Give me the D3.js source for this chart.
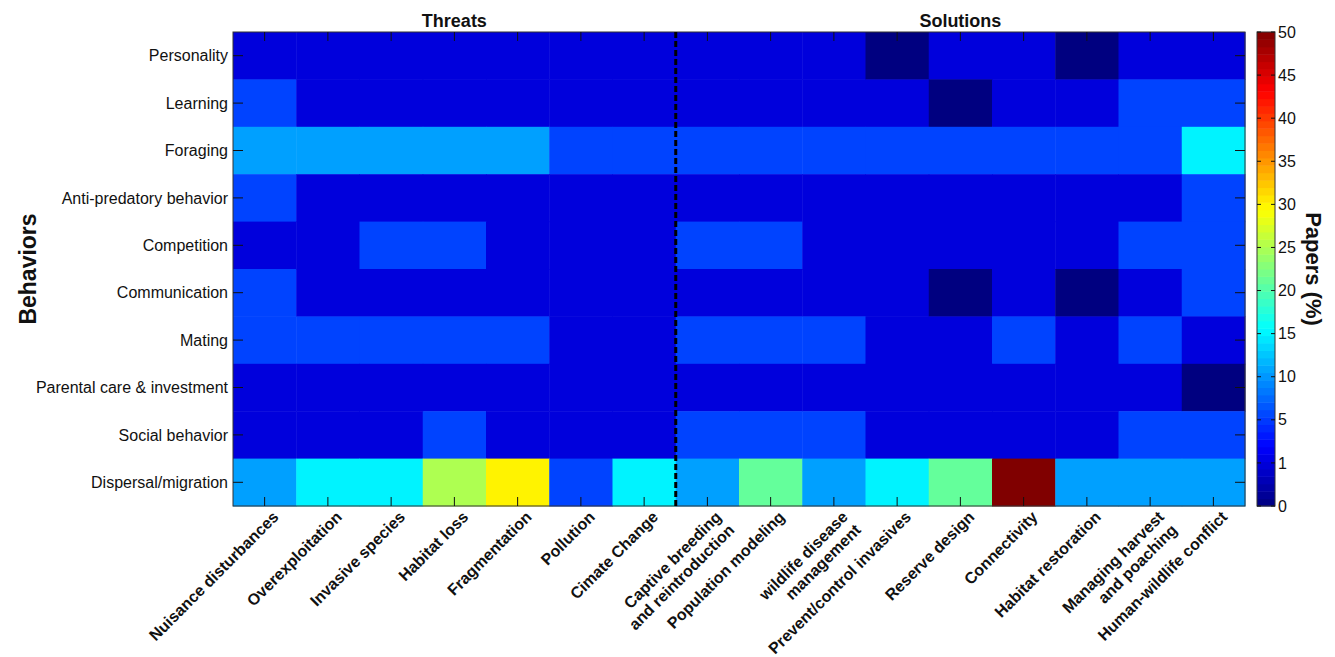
<!DOCTYPE html>
<html>
<head>
<meta charset="utf-8">
<script src="https://cdnjs.cloudflare.com/ajax/libs/d3/7.8.5/d3.min.js"></script>
<style>
  body { margin: 0; background: #fff; }
  svg text { font-family: "Liberation Sans", Arial, sans-serif; fill: #111; }
</style>
</head>
<body>
<script>
const threats = ["Nuisance disturbances", "Overexploitation", "Invasive species", "Habitat loss",
    "Fragmentation", "Pollution", "Cimate Change"];
const solutions = ["Captive breeding|and reintroduction", "Population modeling", "wildlife disease|management",
    "Prevent/control invasives", "Reserve design", "Connectivity", "Habitat restoration",
    "Managing harvest|and poaching", "Human-wildlife conflict"];
const behaviors = ["Personality", "Learning", "Foraging", "Anti-predatory behavior", "Competition",
    "Communication", "Mating", "Parental care & investment", "Social behavior", "Dispersal/migration"];

// papers (%) per behavior, threats then solutions
const personality   = [1, 1, 1, 1, 1, 1, 1,      1, 1, 1, 0, 1, 1, 0, 1, 1];
const learning      = [5.5, 1, 1, 1, 1, 1, 1,    1, 1, 1, 1, 0, 1, 1, 5.5, 5.5];
const foraging      = [10.5, 10.5, 10.5, 10.5, 10.5, 5.5, 5.5,  5.5, 5.5, 5.5, 5.5, 5.5, 5.5, 5.5, 5.5, 15];
const antiPredatory = [5.5, 1, 1, 1, 1, 1, 1,    1, 1, 1, 1, 1, 1, 1, 1, 5.5];
const competition   = [1, 1, 5.5, 5.5, 1, 1, 1,  5.5, 5.5, 1, 1, 1, 1, 1, 5.5, 5.5];
const communication = [5.5, 1, 1, 1, 1, 1, 1,    1, 1, 1, 1, 0, 1, 0, 1, 5.5];
const mating        = [5.5, 5.5, 5.5, 5.5, 5.5, 1, 1,  5.5, 5.5, 5.5, 1, 1, 5.5, 1, 5.5, 1];
const parental      = [1, 1, 1, 1, 1, 1, 1,      1, 1, 1, 1, 1, 1, 1, 1, 0];
const social        = [1, 1, 1, 5.5, 1, 1, 1,    5.5, 5.5, 5.5, 1, 1, 1, 1, 5.5, 5.5];
const dispersal     = [10.5, 15, 15, 25, 30, 5.5, 15,  10.5, 21, 10.5, 15, 21, 50, 10.5, 10.5, 10.5];
const values = [personality, learning, foraging, antiPredatory, competition,
    communication, mating, parental, social, dispersal];

const cbTicks = [0, 1, 5, 10, 15, 20, 25, 30, 35, 40, 45, 50];

const columns = threats.concat(solutions);
const W = 1335, H = 657;
const mLeft = 233, mRight = 1245, mTop = 32, mBottom = 506;

const svg = d3.select("body").append("svg")
    .attr("width", W).attr("height", H);

const x = d3.scaleBand().domain(columns).range([mLeft, mRight]);
const y = d3.scaleBand().domain(behaviors).range([mTop, mBottom]);

// colorbar maps ticks to equal steps
const cbPos = d3.scaleLinear()
    .domain(cbTicks)
    .range(cbTicks.map((d, i) => i / (cbTicks.length - 1)));

function jet(t) {
    const c = v => Math.max(0, Math.min(1, v)) * 255;
    return d3.rgb(c(1.5 - Math.abs(4 * t - 3)), c(1.5 - Math.abs(4 * t - 2)), c(1.5 - Math.abs(4 * t - 1)));
}
const color = v => jet(cbPos(v));

const cells = [];
behaviors.forEach((b, i) => columns.forEach((c, j) => cells.push({b: b, c: c, v: values[i][j]})));

svg.append("g").selectAll("rect")
    .data(cells)
    .enter().append("rect")
    .attr("x", d => x(d.c))
    .attr("y", d => y(d.b))
    .attr("width", x.bandwidth() + 0.5)
    .attr("height", y.bandwidth() + 0.5)
    .attr("fill", d => color(d.v));

// axes box
svg.append("rect")
    .attr("x", mLeft).attr("y", mTop)
    .attr("width", mRight - mLeft).attr("height", mBottom - mTop)
    .attr("fill", "none").attr("stroke", "#333").attr("stroke-width", 1);

// ticks inside
const tk = svg.append("g").attr("stroke", "#111").attr("stroke-width", 1);
columns.forEach(c => {
    const cx = x(c) + x.bandwidth() / 2;
    tk.append("line").attr("x1", cx).attr("x2", cx).attr("y1", mTop).attr("y2", mTop + 9);
    tk.append("line").attr("x1", cx).attr("x2", cx).attr("y1", mBottom - 9).attr("y2", mBottom);
});
behaviors.forEach(b => {
    const cy = y(b) + y.bandwidth() / 2;
    tk.append("line").attr("x1", mLeft).attr("x2", mLeft + 10).attr("y1", cy).attr("y2", cy);
    tk.append("line").attr("x1", mRight - 10).attr("x2", mRight).attr("y1", cy).attr("y2", cy);
});

// dashed divider
const divX = x(solutions[0]);
svg.append("line")
    .attr("x1", divX).attr("x2", divX).attr("y1", mTop).attr("y2", mBottom)
    .attr("stroke", "#000").attr("stroke-width", 3).attr("stroke-dasharray", "6,3");

// row labels
svg.append("g").selectAll("text")
    .data(behaviors)
    .enter().append("text")
    .attr("x", mLeft - 5)
    .attr("y", d => y(d) + y.bandwidth() / 2)
    .attr("dy", "0.35em")
    .attr("text-anchor", "end")
    .style("font-size", "16px")
    .text(d => d);

// column labels, rotated
const xl = svg.append("g");
columns.forEach(c => {
    const cx = x(c) + x.bandwidth() / 2 + 11;
    const cy = mBottom + 8;
    const lines = c.split("|");
    lines.forEach((ln, k) => {
        xl.append("text")
            .attr("transform", `translate(${cx + k * 13}, ${cy + k * 13}) rotate(-45)`)
            .attr("text-anchor", "end")
            .attr("dy", "0.35em")
            .style("font-size", "16px")
            .style("font-weight", "bold")
            .text(ln);
    });
});

// group titles
svg.append("text")
    .attr("x", (mLeft + divX) / 2).attr("y", 27)
    .attr("text-anchor", "middle")
    .style("font-size", "18px").style("font-weight", "bold")
    .text("Threats");
svg.append("text")
    .attr("x", (divX + mRight) / 2).attr("y", 27)
    .attr("text-anchor", "middle")
    .style("font-size", "18px").style("font-weight", "bold")
    .text("Solutions");

// y axis title
svg.append("text")
    .attr("transform", `translate(36, ${(mTop + mBottom) / 2}) rotate(-90)`)
    .attr("text-anchor", "middle")
    .style("font-size", "23px").style("font-weight", "bold")
    .text("Behaviors");

// colorbar
const cbX = 1257, cbW = 18;
const cbY = d3.scaleLinear().domain([0, 1]).range([mBottom, mTop]);
const steps = d3.range(64);
svg.append("g").selectAll("rect")
    .data(steps)
    .enter().append("rect")
    .attr("x", cbX)
    .attr("y", d => cbY((d + 1) / 64))
    .attr("width", cbW)
    .attr("height", (mBottom - mTop) / 64 + 0.5)
    .attr("fill", d => jet((d + 0.5) / 64));

svg.append("rect")
    .attr("x", cbX).attr("y", mTop).attr("width", cbW).attr("height", mBottom - mTop)
    .attr("fill", "none").attr("stroke", "#333");

const cb = svg.append("g");
cbTicks.forEach(t => {
    const ty = cbY(cbPos(t));
    cb.append("line").attr("x1", cbX).attr("x2", cbX + 4).attr("y1", ty).attr("y2", ty).attr("stroke", "#111");
    cb.append("line").attr("x1", cbX + cbW - 4).attr("x2", cbX + cbW).attr("y1", ty).attr("y2", ty).attr("stroke", "#111");
    cb.append("text")
        .attr("x", cbX + cbW + 3).attr("y", ty)
        .attr("dy", "0.35em")
        .style("font-size", "16px")
        .text(t);
});

svg.append("text")
    .attr("transform", `translate(1306, ${(mTop + mBottom) / 2}) rotate(90)`)
    .attr("text-anchor", "middle")
    .style("font-size", "22px").style("font-weight", "bold")
    .text("Papers (%)");
</script>
</body>
</html>
